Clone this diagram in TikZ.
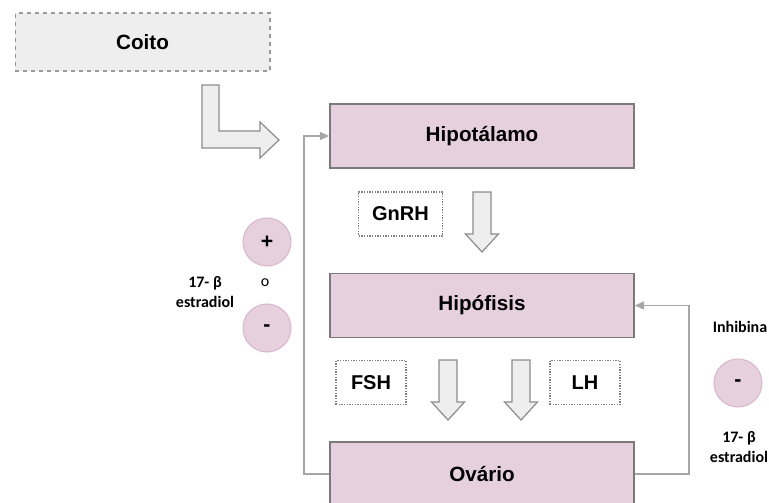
\documentclass[tikz,border=0pt]{standalone}
\usepackage{fontspec}
\setmainfont{Liberation Sans}
\newfontfamily\notefont{Carlito}
\usetikzlibrary{arrows.meta}
\definecolor{organfill}{HTML}{E6D0DE}
\definecolor{organline}{HTML}{7A7A7A}
\definecolor{signline}{HTML}{D9B8CB}
\definecolor{arrowfill}{HTML}{EEEEEE}
\definecolor{arrowline}{HTML}{8C8C8C}
\definecolor{loopline}{HTML}{A6A6A6}
\tikzset{
	organ/.style={draw=organline, fill=organfill, line width=1.2pt, minimum width=228pt, minimum height=48pt, inner sep=0pt, font=\fontsize{15.5}{18}\selectfont\bfseries},
	hormone/.style={draw=gray, densely dotted, line width=1pt, minimum width=63pt, minimum height=33pt, inner sep=0pt, font=\fontsize{15}{18}\selectfont\bfseries},
	sign/.style={circle, draw=signline, fill=organfill, line width=0.8pt, minimum size=36pt, inner sep=0pt, font=\fontsize{16}{18}\selectfont\bfseries},
	note/.style={align=center, font=\notefont\fontsize{12}{15}\selectfont\bfseries},
	blockarrow/.style={draw=arrowline, fill=arrowfill, line width=0.9pt, line join=miter},
	feedback/.style={draw=loopline, line width=1.2pt, -{Triangle[length=7pt,width=6pt]}}
}
\begin{document}
\begin{tikzpicture}[x=0.75pt, y=-0.75pt]
	\useasboundingbox (0,0) rectangle (769,503);
	\clip (0,0) rectangle (769,503);
	% stimulus
	\node[draw=gray!80, dashed, fill=arrowfill, line width=1pt, minimum width=191pt, minimum height=43.5pt, inner sep=0pt, font=\fontsize{15.5}{18}\selectfont\bfseries] (coito) at (142.5,42) {Coito};
	\filldraw[blockarrow] (202,85) -- (219,85) -- (219,131) -- (260,131) -- (260,122) -- (279,140) -- (260,158) -- (260,148) -- (202,148) -- cycle;

	% axis
	\node[organ] (hipotalamo) at (482,136) {Hipotálamo};
	\node[organ] (hipofisis) at (482,305.5) {Hipófisis};
	\node[organ] (ovario) at (482,474) {Ovário};

	\node[hormone] (gnrh) at (400.5,214) {GnRH};
	\node[hormone, minimum width=52.5pt] (fsh) at (371,382.5) {FSH};
	\node[hormone, minimum width=52.5pt] (lh) at (585,382.5) {LH};

	\filldraw[blockarrow] (473,192) -- (491,192) -- (491,234) -- (498.5,234) -- (482,252) -- (465.5,234) -- (473,234) -- cycle;
	\foreach \cx in {448,521}
		\filldraw[blockarrow] (\cx-9,360) -- (\cx+9,360) -- (\cx+9,402) -- (\cx+16.5,402) -- (\cx,420) -- (\cx-16.5,402) -- (\cx-9,402) -- cycle;

	% feedback loops
	\draw[feedback] (ovario.west) -- ++(-25,0) |- (hipotalamo.west);
	\draw[feedback] (ovario.east) -- ++(54,0) |- (hipofisis.east);

	\node[sign] (plus) at (267,242) {+};
	\node[sign] (minusleft) at (267,328) {-};
	\node[note, font=\notefont\fontsize{12}{15}\selectfont] (ou) at (265,283) {o};
	\node[note] (estleft) at (205,292) {17- β\\estradiol};

	\node[note] (inhibina) at (740,327) {Inhibina};
	\node[sign] (minusright) at (738,383) {-};
	\node[note] (estright) at (739,447) {17- β\\estradiol};
\end{tikzpicture}
\end{document}
